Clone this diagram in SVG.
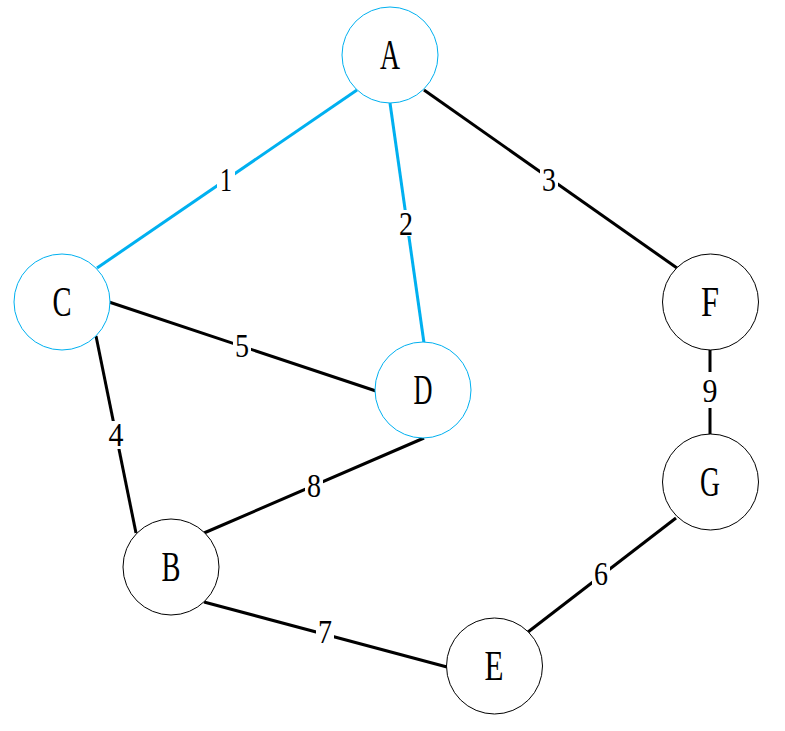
<svg xmlns="http://www.w3.org/2000/svg" width="785" height="731" viewBox="0 0 785 731">
<style>
.e{stroke:#000;stroke-width:3;fill:none}
.b{stroke:#00B0F0}
.n{fill:#fff;stroke:#000;stroke-width:1}
.nb{stroke:#00B0F0}
.t{font-family:"Liberation Serif","DejaVu Serif",serif;font-size:42px;fill:#000;text-anchor:middle}
.l{font-family:"Liberation Serif","DejaVu Serif",serif;font-size:33px;fill:#000;text-anchor:middle}
.bg{fill:#fff}
</style>
<rect width="785" height="731" fill="#fff"/>
<g id="connectors">
<line class="e b" x1="357" y1="90" x2="97" y2="268"/>
<line class="e b" x1="390" y1="103" x2="424" y2="343"/>
<line class="e" x1="424" y1="90" x2="677" y2="268"/>
<line class="e" x1="109" y1="302" x2="376" y2="391"/>
<line class="e" x1="96" y1="336" x2="136" y2="533"/>
<line class="e" x1="424" y1="438" x2="204" y2="533"/>
<line class="e" x1="710" y1="350" x2="710" y2="434"/>
<line class="e" x1="676" y1="518" x2="528" y2="632"/>
<line class="e" x1="204" y1="602" x2="447" y2="667"/>
<rect class="bg" x="217" y="166" width="18" height="26"/><text class="l" x="226" y="191" textLength="12" lengthAdjust="spacingAndGlyphs">1</text>
<rect class="bg" x="397" y="210" width="18" height="26"/><text class="l" x="406" y="235" textLength="14" lengthAdjust="spacingAndGlyphs">2</text>
<rect class="bg" x="540" y="166" width="18" height="26"/><text class="l" x="549" y="191" textLength="14" lengthAdjust="spacingAndGlyphs">3</text>
<rect class="bg" x="233" y="332" width="18" height="26"/><text class="l" x="242" y="357" textLength="14" lengthAdjust="spacingAndGlyphs">5</text>
<rect class="bg" x="107" y="421" width="18" height="28"/><text class="l" x="116" y="446" textLength="15" lengthAdjust="spacingAndGlyphs">4</text>
<rect class="bg" x="305" y="472" width="18" height="26"/><text class="l" x="314" y="497" textLength="14" lengthAdjust="spacingAndGlyphs">8</text>
<rect class="bg" x="701" y="372" width="18" height="36"/><text class="l" x="710" y="402" textLength="15" lengthAdjust="spacingAndGlyphs">9</text>
<rect class="bg" x="592" y="560" width="18" height="26"/><text class="l" x="601" y="585" textLength="14" lengthAdjust="spacingAndGlyphs">6</text>
<rect class="bg" x="316" y="618" width="18" height="26"/><text class="l" x="325" y="643" textLength="14" lengthAdjust="spacingAndGlyphs">7</text>
</g>
<g id="A"><circle class="n nb" cx="390" cy="55" r="48"/><text class="t" x="390" y="69" textLength="20" lengthAdjust="spacingAndGlyphs">A</text></g>
<g id="C"><circle class="n nb" cx="62" cy="302" r="48"/><text class="t" x="62" y="316" textLength="19" lengthAdjust="spacingAndGlyphs">C</text></g>
<g id="D"><circle class="n nb" cx="423" cy="390" r="48"/><text class="t" x="423" y="404" textLength="19" lengthAdjust="spacingAndGlyphs">D</text></g>
<g id="F"><circle class="n" cx="710.5" cy="302" r="48"/><text class="t" x="710" y="316" textLength="18" lengthAdjust="spacingAndGlyphs">F</text></g>
<g id="G"><circle class="n" cx="710.5" cy="482" r="48"/><text class="t" x="710" y="496" textLength="20" lengthAdjust="spacingAndGlyphs">G</text></g>
<g id="B"><circle class="n" cx="171" cy="567" r="48"/><text class="t" x="171" y="581" textLength="19" lengthAdjust="spacingAndGlyphs">B</text></g>
<g id="E"><circle class="n" cx="494.5" cy="666" r="48"/><text class="t" x="494" y="680" textLength="19" lengthAdjust="spacingAndGlyphs">E</text></g>
</svg>
